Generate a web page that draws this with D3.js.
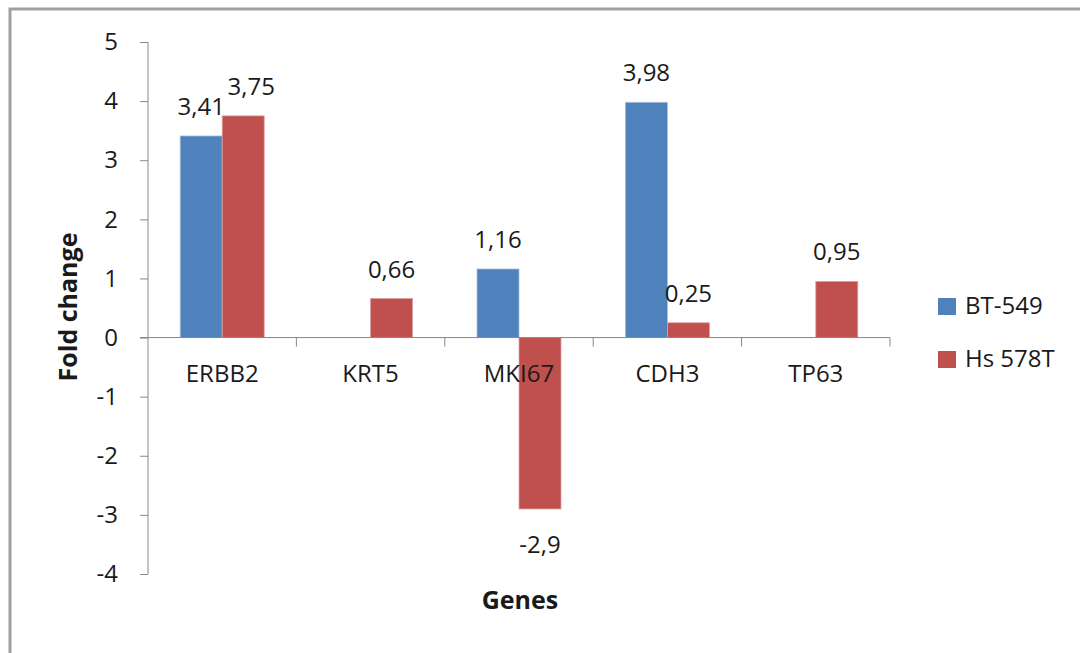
<!DOCTYPE html>
<meta charset="utf-8">
<style>
body, html {
  margin: 0;
  padding: 0;
  overflow: hidden;
  background: #fff;
}
text {
  font-family: "Open Sans", sans-serif;
  fill: #1a1a1a;
}
</style>
<svg width="1080" height="653"></svg>
<script src="https://cdn.jsdelivr.net/npm/d3@7"></script>
<script>

var genes = ["ERBB2", "KRT5", "MKI67", "CDH3", "TP63"];
var seriesNames = ["BT-549", "Hs 578T"];
var bt549 = [3.41, null, 1.16, 3.98, null];
var hs578t = [3.75, 0.66, -2.9, 0.25, 0.95];
var colors = ["#4f81bd", "#c0504d"];
var yTicks = [5, 4, 3, 2, 1, 0, -1, -2, -3, -4];

var svg = d3.select("svg");

// outer frame, right and bottom edges fall off the picture
svg.append("rect")
    .attr("x", 10).attr("y", 9)
    .attr("width", 1100).attr("height", 700)
    .attr("fill", "none")
    .attr("stroke", "#a0a0a0")
    .attr("stroke-width", 3);

var plotL = 148, plotR = 890, plotT = 42, plotB = 574;

var y = d3.scaleLinear().domain([-4, 5]).range([plotB, plotT]);
var x = d3.scaleBand().domain(genes).range([plotL, plotR]).paddingInner(0.434).paddingOuter(0.217);
var xs = d3.scaleBand().domain(seriesNames).range([0, x.bandwidth()]);

var rows = genes.map(function(g, i) {
  return { gene: g, values: [bt549[i], hs578t[i]] };
});

// y axis
var yAxis = svg.append("g")
    .attr("transform", "translate(" + plotL + ",0)")
    .call(d3.axisLeft(y).tickValues(yTicks).tickSize(8).tickPadding(22).tickFormat(d3.format("d")));
yAxis.select(".domain").attr("stroke", "#888").attr("d", "M0," + plotT + "V" + plotB);
yAxis.selectAll(".tick line").attr("stroke", "#888");
yAxis.selectAll("text").style("font-size", "24px").attr("fill", "#1a1a1a")
    .style("font-family", "'Open Sans', sans-serif")
    .text(function(d) { return d < 0 ? "-" + Math.abs(d) : d; });

// bars
var groups = svg.selectAll(".gene")
    .data(rows)
  .enter().append("g")
    .attr("transform", function(d) { return "translate(" + x(d.gene) + ",0)"; });

function pts(d) {
  return d.values.map(function(v, j) { return { s: seriesNames[j], v: v, j: j }; })
    .filter(function(e) { return e.v !== null; });
}

groups.selectAll("rect")
    .data(pts)
  .enter().append("rect")
    .attr("x", function(d) { return xs(d.s); })
    .attr("width", xs.bandwidth())
    .attr("y", function(d) { return y(Math.max(0, d.v)); })
    .attr("height", function(d) { return Math.abs(y(d.v) - y(0)); })
    .attr("fill", function(d) { return colors[d.j]; })
    .attr("stroke", function(d) { return d.j ? "#d9a09e" : "#a7bfdd"; })
    .attr("stroke-width", 0.8);

// labels of neighbouring bars that would collide get pushed apart, like the original
groups.selectAll(".lbl")
    .data(pts)
  .enter().append("text")
    .attr("class", "lbl")
    .attr("x", function(d, i, n) {
      var cx = xs(d.s) + xs.bandwidth() / 2;
      return (n.length === 2 && d.j === 1 && Math.abs(d.v - (d3.select(n[0]).datum().v)) < 0.5) ? cx + 8 : cx;
    })
    .attr("y", function(d) { return d.v >= 0 ? y(d.v) - 21 : y(d.v) + 44; })
    .attr("text-anchor", "middle")
    .style("font-size", "24px")
    .text(function(d) { return String(d.v).replace(".", ","); });

// x axis at zero
var xAxis = svg.append("g")
    .attr("transform", "translate(0," + y(0) + ")")
    .call(d3.axisBottom(x).tickSize(0).tickPadding(0));
xAxis.select(".domain").attr("stroke", "#888").attr("d", "M" + (plotL - 8) + ",0H" + plotR);
xAxis.selectAll(".tick").remove();
xAxis.selectAll(".sep")
    .data(d3.range(1, genes.length + 1))
  .enter().append("line")
    .attr("x1", function(i) { return plotL + i * (plotR - plotL) / genes.length; })
    .attr("x2", function(i) { return plotL + i * (plotR - plotL) / genes.length; })
    .attr("y1", 0).attr("y2", 9)
    .attr("stroke", "#888");

svg.selectAll(".cat")
    .data(genes)
  .enter().append("text")
    .attr("x", function(d) { return x(d) + x.bandwidth() / 2; })
    .attr("y", 382)
    .attr("text-anchor", "middle")
    .style("font-size", "24px")
    .text(function(d) { return d; });

// axis titles
svg.append("text")
    .attr("transform", "translate(77,307) rotate(-90)")
    .attr("text-anchor", "middle")
    .style("font-size", "25px")
    .style("font-weight", "bold")
    .attr("fill", "#000")
    .text("Fold change");

svg.append("text")
    .attr("x", 520).attr("y", 609)
    .attr("text-anchor", "middle")
    .style("font-size", "25px")
    .style("font-weight", "bold")
    .attr("fill", "#000")
    .text("Genes");

// legend
var legend = svg.selectAll(".legend")
    .data(seriesNames)
  .enter().append("g")
    .attr("transform", function(d, i) { return "translate(938," + (298 + i * 53) + ")"; });
legend.append("rect")
    .attr("width", 18).attr("height", 17)
    .attr("fill", function(d, i) { return colors[i]; });
legend.append("text")
    .attr("x", 27).attr("y", 16)
    .style("font-size", "24px")
    .text(function(d) { return d; });

</script>
